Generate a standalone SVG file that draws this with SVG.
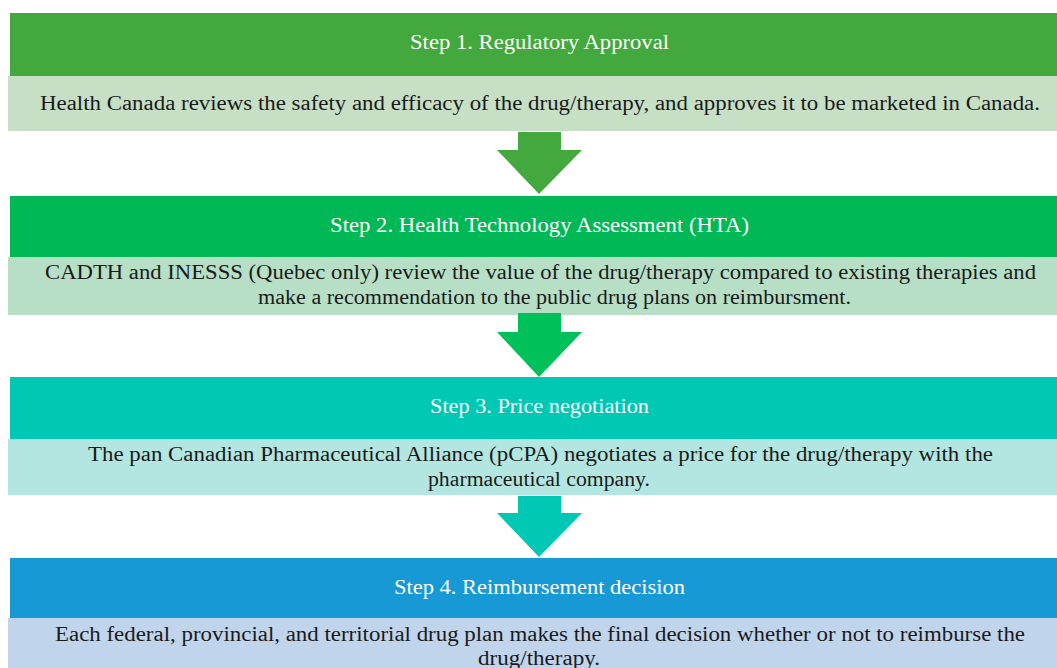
<svg xmlns="http://www.w3.org/2000/svg" width="1057" height="668" viewBox="0 0 1057 668">
<style>
.hd{font-family:"Liberation Serif","Times New Roman",serif;font-size:20px;fill:#ffffff;text-anchor:start}
.bd{font-family:"Liberation Serif","Times New Roman",serif;font-size:20.5px;fill:#1a1a1a;text-anchor:start}
</style>
<rect width="1057" height="668" fill="#ffffff"/>
<g id="step1">
<rect x="10" y="13" width="1047" height="63" fill="#43a83e"/>
<rect x="8" y="76" width="1049" height="55" fill="#c6dfc5"/>
<text class="hd" x="410" y="49" textLength="259" lengthAdjust="spacingAndGlyphs">Step 1. Regulatory Approval</text>
<text class="bd" x="40" y="110" textLength="1000" lengthAdjust="spacingAndGlyphs">Health Canada  reviews the safety and efficacy of the drug/therapy,  and approves it to be marketed in Canada.</text>
</g>
<g id="step2">
<rect x="10" y="196" width="1047" height="61" fill="#00b956"/>
<rect x="8" y="257" width="1049" height="58" fill="#b6dfc6"/>
<text class="hd" x="330" y="232" textLength="419" lengthAdjust="spacingAndGlyphs">Step 2. Health Technology Assessment (HTA)</text>
<text class="bd" x="45" y="279" textLength="991" lengthAdjust="spacingAndGlyphs">CADTH and  INESSS (Quebec only)  review the value of the drug/therapy  compared to existing therapies and</text>
<text class="bd" x="258" y="304" textLength="593" lengthAdjust="spacingAndGlyphs">make a recommendation to the public drug plans on reimbursment.</text>
</g>
<g id="step3">
<rect x="10" y="377" width="1047" height="62" fill="#00c8b4"/>
<rect x="8" y="439" width="1049" height="56" fill="#b3e6e0"/>
<text class="hd" x="430" y="413" textLength="219" lengthAdjust="spacingAndGlyphs">Step 3. Price negotiation</text>
<text class="bd" x="88" y="461" textLength="905" lengthAdjust="spacingAndGlyphs">The pan Canadian  Pharmaceutical  Alliance  (pCPA)  negotiates a price for the drug/therapy with the</text>
<text class="bd" x="428" y="486" textLength="222" lengthAdjust="spacingAndGlyphs">pharmaceutical company.</text>
</g>
<g id="step4">
<rect x="10" y="558" width="1047" height="60" fill="#1799d6"/>
<rect x="8" y="618" width="1049" height="50" fill="#c0d5ec"/>
<text class="hd" x="394" y="594" textLength="291" lengthAdjust="spacingAndGlyphs">Step 4. Reimbursement decision</text>
<text class="bd" x="55" y="641" textLength="970" lengthAdjust="spacingAndGlyphs">Each federal, provincial,  and territorial drug plan makes the final decision whether or not to reimburse the</text>
<text class="bd" x="478" y="665" textLength="122" lengthAdjust="spacingAndGlyphs">drug/therapy.</text>
</g>
<g id="connectors">
<polygon points="518,132 561,132 561,150 582,150 539,194 497,150 518,150" fill="#43a83e"/>
<polygon points="518,313 561,313 561,332 582,332 539,377 497,332 518,332" fill="#00c05a"/>
<polygon points="518,496 561,496 561,513 582,513 539,557 497,513 518,513" fill="#00c8b4"/>
</g>
</svg>
